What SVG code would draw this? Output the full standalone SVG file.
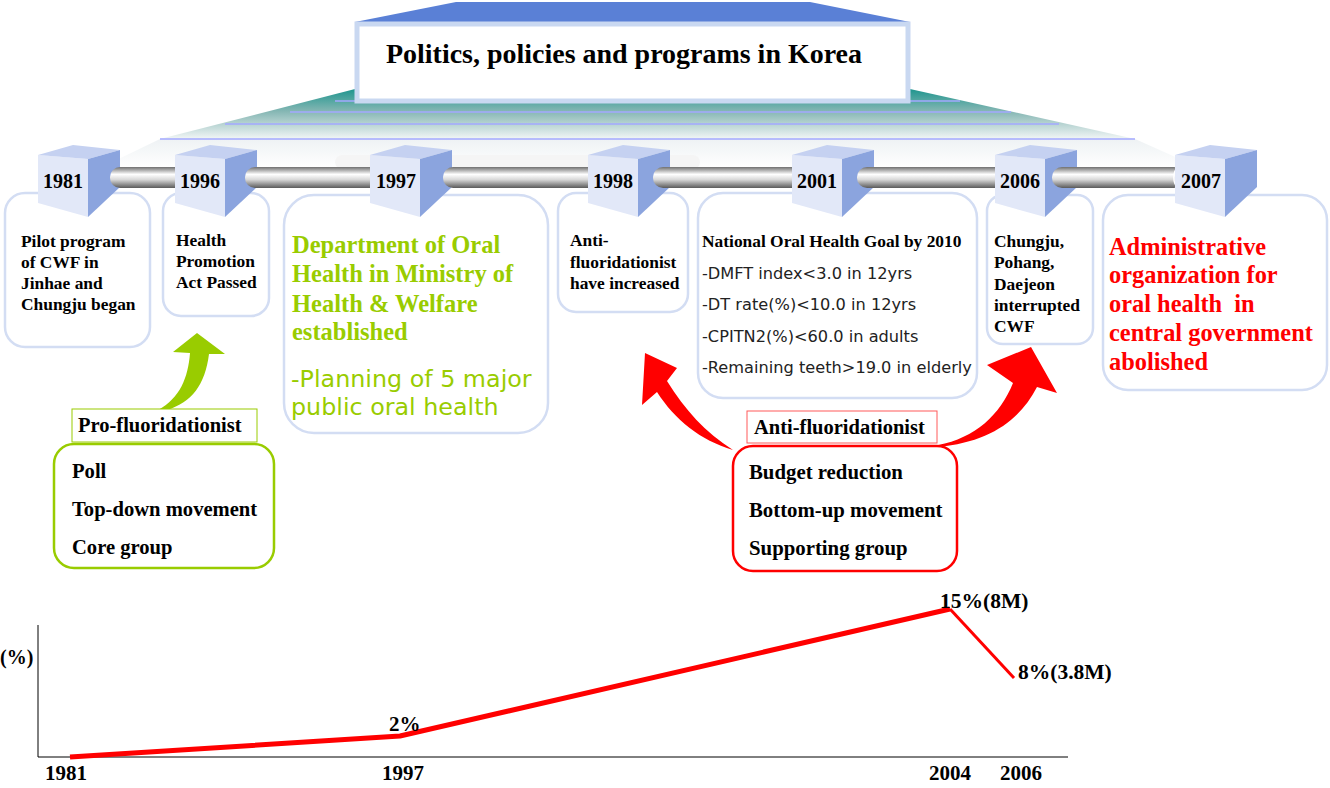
<svg xmlns="http://www.w3.org/2000/svg" width="1330" height="788" viewBox="0 0 1330 788">
<style>
.sb{font-family:"Liberation Serif","Times New Roman",serif;font-weight:bold;fill:#000}
.ss{font-family:"DejaVu Sans","Liberation Sans",sans-serif}
.yr{font-family:"Liberation Serif","Times New Roman",serif;font-weight:bold;font-size:20px;fill:#000;text-anchor:middle}
.box{fill:#fff;stroke:#d3ddf3;stroke-width:2.5}
.cf{fill:#e2e8f8}.ct{fill:#c5d1f1}.cr{fill:#8ba4de}
.bar{fill:url(#metal)}
.pl{stroke:#a3a8ff;stroke-width:1.5}
</style>
<defs>
<linearGradient id="teal" x1="0" y1="0" x2="0" y2="1">
<stop offset="0" stop-color="#1f958e"/>
<stop offset="0.45" stop-color="#86b7b4"/>
<stop offset="1" stop-color="#f2f6f6"/>
</linearGradient>
<linearGradient id="floor" x1="0" y1="0" x2="0" y2="1">
<stop offset="0" stop-color="#eef2f4"/>
<stop offset="1" stop-color="#ffffff"/>
</linearGradient>
<linearGradient id="metal" x1="0" y1="0" x2="0" y2="1">
<stop offset="0" stop-color="#707070"/>
<stop offset="0.35" stop-color="#ffffff"/>
<stop offset="0.6" stop-color="#d8d8d8"/>
<stop offset="1" stop-color="#5a5a5a"/>
</linearGradient>
</defs>
<rect width="1330" height="788" fill="#fff"/>

<g id="header">
<polygon points="160,139 1135,139 1200,168 100,168" fill="url(#floor)"/>
<rect x="335" y="155" width="365" height="14" rx="7" fill="#f5f5f5"/>
<polygon points="355,89 910,89 1135,139 160,139" fill="url(#teal)"/>
<line class="pl" x1="335" y1="101" x2="960" y2="101"/>
<line class="pl" x1="290" y1="112" x2="1011" y2="112"/>
<line class="pl" x1="225" y1="124" x2="1059" y2="124"/>
<line class="pl" x1="160" y1="139" x2="1135" y2="139"/>
<polygon points="456,2 810,2 910,22 355,22" fill="#5a80d6"/>
<rect x="357" y="24" width="551" height="77" fill="#fff" stroke="#c9d8f1" stroke-width="5"/>
<text class="sb" x="386" y="63" font-size="27" textLength="476" lengthAdjust="spacingAndGlyphs">Politics, policies and programs in Korea</text>
</g>

<g id="box1981"><rect class="box" x="5" y="193" width="145" height="154" rx="20"/>
<text class="sb" font-size="17.4" x="21"><tspan x="21" y="247">Pilot program</tspan><tspan x="21" y="268">of CWF in</tspan><tspan x="21" y="289">Jinhae and</tspan><tspan x="21" y="310">Chungju began</tspan></text></g>
<g id="box1996"><rect class="box" x="163" y="193" width="106" height="123" rx="18"/>
<text class="sb" font-size="17.4"><tspan x="176" y="246">Health</tspan><tspan x="176" y="267">Promotion</tspan><tspan x="176" y="288">Act Passed</tspan></text></g>
<g id="box1997"><rect class="box" x="284" y="195" width="264" height="238" rx="30"/>
<text class="sb" font-size="24.5" style="fill:#99cc00"><tspan x="292" y="253">Department of Oral</tspan><tspan x="292" y="282">Health in Ministry of</tspan><tspan x="292" y="312">Health &amp; Welfare</tspan><tspan x="292" y="340">established</tspan></text>
<text class="ss" font-size="23.8" fill="#99cc00"><tspan x="291" y="387">-Planning of 5 major</tspan><tspan x="291" y="415">public oral health</tspan></text></g>
<g id="box1998"><rect class="box" x="558" y="193" width="130" height="119" rx="18"/>
<text class="sb" font-size="17.4"><tspan x="570" y="246">Anti-</tspan><tspan x="570" y="268">fluoridationist</tspan><tspan x="570" y="289">have increased</tspan></text></g>
<g id="box2001"><rect class="box" x="698" y="193" width="279" height="205" rx="25"/>
<text class="sb" font-size="17.4" x="702" y="247">National Oral Health Goal by 2010</text>
<text class="ss" font-size="16.2" fill="#222"><tspan x="702" y="279">-DMFT index&lt;3.0 in 12yrs</tspan><tspan x="702" y="310">-DT rate(%)&lt;10.0 in 12yrs</tspan><tspan x="702" y="342">-CPITN2(%)&lt;60.0 in adults</tspan><tspan x="702" y="373">-Remaining teeth&gt;19.0 in elderly</tspan></text></g>
<g id="box2006"><rect class="box" x="987" y="195" width="106" height="149" rx="16"/>
<text class="sb" font-size="17.4"><tspan x="994" y="247">Chungju,</tspan><tspan x="994" y="268">Pohang,</tspan><tspan x="994" y="290">Daejeon</tspan><tspan x="994" y="311">interrupted</tspan><tspan x="994" y="332">CWF</tspan></text></g>
<g id="box2007"><rect class="box" x="1103" y="195" width="224" height="195" rx="25"/>
<text class="sb" font-size="24.4" style="fill:#ff0000" xml:space="preserve"><tspan x="1109" y="255">Administrative</tspan><tspan x="1109" y="283">organization for</tspan><tspan x="1109" y="312">oral health  in</tspan><tspan x="1109" y="341">central government</tspan><tspan x="1109" y="370">abolished</tspan></text></g>

<g id="connectors">
<g id="cube1981"><polygon class="cf" points="38,155 88,159 88,217 38,203"/><polygon class="ct" points="38,155 73,145 120,150 88,159"/><polygon class="cr" points="88,159 120,150 120,187 88,217"/><text class="yr" x="63" y="188">1981</text></g>
<rect class="bar" x="110" y="167" width="80" height="21" rx="10"/>
<g id="cube1996"><polygon class="cf" points="175,155 225,159 225,217 175,203"/><polygon class="ct" points="175,155 210,145 257,150 225,159"/><polygon class="cr" points="225,159 257,150 257,187 225,217"/><text class="yr" x="200" y="188">1996</text></g>
<rect class="bar" x="245" y="167" width="140" height="21" rx="10"/>
<g id="cube1997"><polygon class="cf" points="370,155 420,159 420,217 370,203"/><polygon class="ct" points="370,155 405,145 452,150 420,159"/><polygon class="cr" points="420,159 452,150 452,187 420,217"/><text class="yr" x="396" y="188">1997</text></g>
<rect class="bar" x="443" y="167" width="155" height="21" rx="10"/>
<g id="cube1998"><polygon class="cf" points="588,155 638,159 638,217 588,203"/><polygon class="ct" points="588,155 623,145 670,150 638,159"/><polygon class="cr" points="638,159 670,150 670,187 638,217"/><text class="yr" x="613" y="188">1998</text></g>
<rect class="bar" x="653" y="167" width="150" height="21" rx="10"/>
<g id="cube2001"><polygon class="cf" points="792,155 842,159 842,217 792,203"/><polygon class="ct" points="792,155 827,145 874,150 842,159"/><polygon class="cr" points="842,159 874,150 874,187 842,217"/><text class="yr" x="817" y="188">2001</text></g>
<rect class="bar" x="857" y="167" width="150" height="21" rx="10"/>
<g id="cube2006"><polygon class="cf" points="995,155 1045,159 1045,217 995,203"/><polygon class="ct" points="995,155 1030,145 1077,150 1045,159"/><polygon class="cr" points="1045,159 1077,150 1077,187 1045,217"/><text class="yr" x="1020" y="188">2006</text></g>
<rect class="bar" x="1052" y="167" width="132" height="21" rx="10"/>
<path d="M1178,168 a6,10 0 0 0 0,19" fill="none" stroke="#fff" stroke-width="1.5"/>
<g id="cube2007"><polygon class="cf" points="1175,155 1225,159 1225,217 1175,203"/><polygon class="ct" points="1175,155 1210,145 1257,150 1225,159"/><polygon class="cr" points="1225,159 1257,150 1257,187 1225,217"/><text class="yr" x="1201" y="188">2007</text></g>

<path id="arrowPro" d="M158,410 C180,398 188,378 190,353 L173,352 L197,333 L225,354 L209,354 C205,385 192,402 167,410 Z" fill="#99cc00"/>
<path id="arrowAntiL" d="M733,450 C700,440 675,420 657,392 L642,405 L645,353 L677,368 L667,381 C685,410 705,432 733,450 Z" fill="#ff0000"/>
<path id="arrowAntiR" d="M938,445 C975,438 1000,415 1013,383 L987,365 L1031,347 L1057,393 L1037,387 C1020,420 990,442 938,447 Z" fill="#ff0000"/>
</g>

<g id="pro">
<rect x="72" y="409" width="185" height="33" fill="#fff" stroke="#99cc00" stroke-width="1"/>
<text class="sb" font-size="20.5" x="78" y="432">Pro-fluoridationist</text>
<rect x="54" y="444" width="220" height="124" rx="20" fill="#fff" stroke="#99cc00" stroke-width="2.5"/>
<text class="sb" font-size="20.6"><tspan x="72" y="478">Poll</tspan><tspan x="72" y="516">Top-down movement</tspan><tspan x="72" y="554">Core group</tspan></text>
</g>
<g id="anti">
<rect x="747" y="411" width="190" height="32" fill="#fff" stroke="#ff5a5a" stroke-width="1"/>
<text class="sb" font-size="20.5" x="754" y="434">Anti-fluoridationist</text>
<rect x="733" y="446" width="224" height="125" rx="20" fill="#fff" stroke="#ff0000" stroke-width="2.5"/>
<text class="sb" font-size="20.8"><tspan x="749" y="479">Budget reduction</tspan><tspan x="749" y="517">Bottom-up movement</tspan><tspan x="749" y="555">Supporting group</tspan></text>
</g>

<g id="chart">
<line x1="38" y1="625" x2="38" y2="757" stroke="#000" stroke-width="1"/>
<line x1="38" y1="757" x2="1068" y2="757" stroke="#000" stroke-width="1"/>
<polyline points="70,757 400,736 950,609" fill="none" stroke="#ff0000" stroke-width="5" stroke-linejoin="round"/>
<polyline points="950,609 1014,678" fill="none" stroke="#ff0000" stroke-width="3"/>
<text class="sb" font-size="20" x="0" y="664">(%)</text>
<text class="sb" font-size="21" x="389" y="731">2%</text>
<text class="sb" font-size="21.5" x="940" y="608">15%(8M)</text>
<text class="sb" font-size="21.5" x="1018" y="679">8%(3.8M)</text>
<text class="sb" font-size="21" x="45" y="780">1981</text>
<text class="sb" font-size="21" x="382" y="780">1997</text>
<text class="sb" font-size="21" x="929" y="780">2004</text>
<text class="sb" font-size="21" x="1000" y="780">2006</text>
</g>
</svg>
